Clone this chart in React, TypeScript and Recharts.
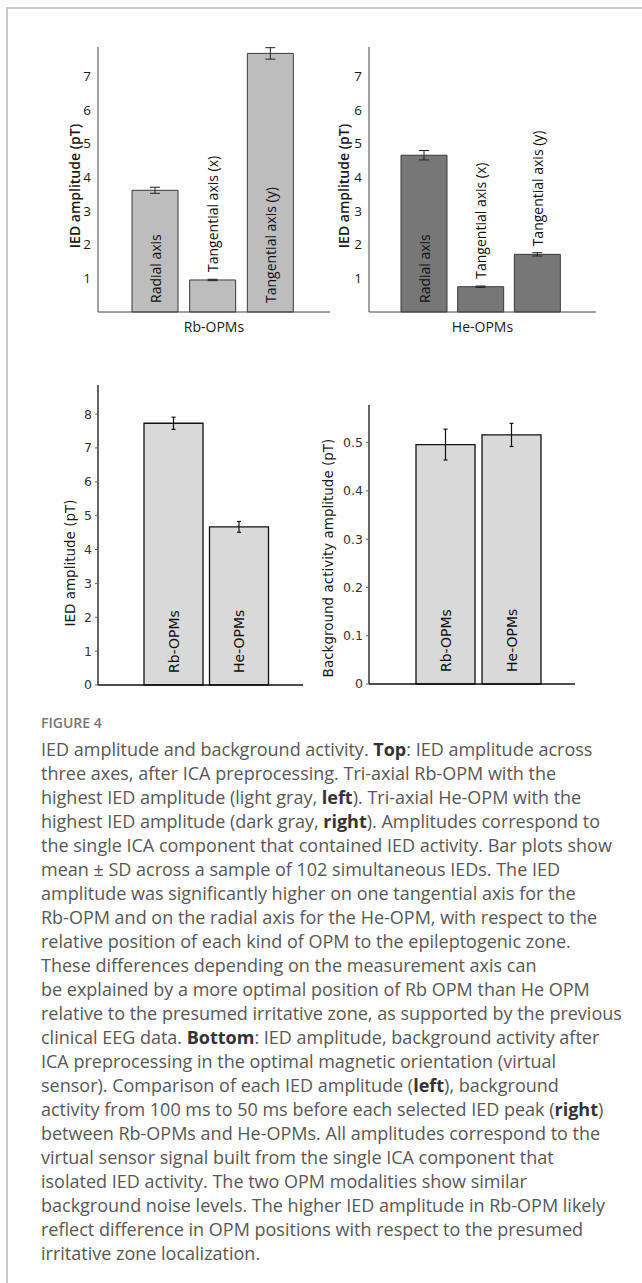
import React from "react";
import { BarChart, Bar, XAxis, YAxis, ErrorBar, LabelList } from "recharts";

// top row: three measurement axes per OPM type
const topAxes = ["Radial axis", "Tangential axis (x)", "Tangential axis (y)"];
const rbTopMean = [3.61, 0.95, 7.67];
const rbTopSd = [0.09, 0.02, 0.17];
const heTopMean = [4.65, 0.75, 1.71];
const heTopSd = [0.14, 0.02, 0.05];
const topTicks = [1, 2, 3, 4, 5, 6, 7];

// bottom row: virtual sensor comparison
const groups = ["Rb-OPMs", "He-OPMs"];
const iedMean = [7.73, 4.67];
const iedSd = [0.18, 0.16];
const iedTicks = [0, 1, 2, 3, 4, 5, 6, 7, 8];
const bgMean = [0.496, 0.516];
const bgSd = [0.032, 0.024];
const bgTicks = [0, 0.1, 0.2, 0.3, 0.4, 0.5];

const captionLines = [
  "IED amplitude and background activity. **Top**: IED amplitude across",
  "three axes, after ICA preprocessing. Tri-axial Rb-OPM with the",
  "highest IED amplitude (light gray, **left**). Tri-axial He-OPM with the",
  "highest IED amplitude (dark gray, **right**). Amplitudes correspond to",
  "the single ICA component that contained IED activity. Bar plots show",
  "mean ± SD across a sample of 102 simultaneous IEDs. The IED",
  "amplitude was significantly higher on one tangential axis for the",
  "Rb-OPM and on the radial axis for the He-OPM, with respect to the",
  "relative position of each kind of OPM to the epileptogenic zone.",
  "These differences depending on the measurement axis can",
  "be explained by a more optimal position of Rb OPM than He OPM",
  "relative to the presumed irritative zone, as supported by the previous",
  "clinical EEG data. **Bottom**: IED amplitude, background activity after",
  "ICA preprocessing in the optimal magnetic orientation (virtual",
  "sensor). Comparison of each IED amplitude (**left**), background",
  "activity from 100 ms to 50 ms before each selected IED peak (**right**)",
  "between Rb-OPMs and He-OPMs. All amplitudes correspond to the",
  "virtual sensor signal built from the single ICA component that",
  "isolated IED activity. The two OPM modalities show similar",
  "background noise levels. The higher IED amplitude in Rb-OPM likely",
  "reflect difference in OPM positions with respect to the presumed",
  "irritative zone localization.",
];

const TOP_FONT = "'Open Sans', sans-serif";
const BOTTOM_FONT = "'DejaVu Sans', sans-serif";

function AxisTitle({ px, py, text, font, size, weight }: any) {
  return (
    <text
      x={px}
      y={py}
      transform={`rotate(-90 ${px} ${py})`}
      textAnchor="middle"
      dominantBaseline="central"
      fontFamily={font}
      fontSize={size}
      fontWeight={weight}
      fill="#1a1a1a"
    >
      {text}
    </text>
  );
}

// rotated bar label: inside from the base when it fits, otherwise above the bar
const topBarLabel = (props: any) => {
  const { x, y, width, height, value } = props;
  const cx = x + width / 2;
  const fits = height > String(value).length * 6.8 + 12;
  const y0 = fits ? y + height - 9 : y - 8;
  return (
    <text
      x={cx}
      y={y0}
      transform={`rotate(-90 ${cx} ${y0})`}
      textAnchor="start"
      dominantBaseline="central"
      fontFamily={TOP_FONT}
      fontSize={14}
      fill="#111"
    >
      {value}
    </text>
  );
};

const bottomBarLabel = (props: any) => {
  const { x, y, width, height, value } = props;
  const cx = x + width / 2;
  const y0 = y + height - 12;
  return (
    <text
      x={cx}
      y={y0}
      transform={`rotate(-90 ${cx} ${y0})`}
      textAnchor="start"
      dominantBaseline="central"
      fontFamily={BOTTOM_FONT}
      fontSize={14}
      fill="#111"
    >
      {value}
    </text>
  );
};

function TopPanel({ left, yWidth, width, means, sds, fill, group, titleX, pad }: any) {
  const rows = topAxes.map((name, i) => ({ name, mean: means[i], sd: sds[i] }));
  return (
    <div style={{ position: "absolute", left, top: 0 }}>
      <BarChart
        width={width}
        height={340}
        data={rows}
        margin={{ top: 47, right: 5, bottom: 0, left: 0 }}
      >
        <XAxis
          dataKey="name"
          height={28}
          tick={false}
          tickLine={false}
          axisLine={{ stroke: "#444" }}
          padding={pad}
          label={{
            value: group,
            position: "center",
            dy: 1,
            style: { fontFamily: TOP_FONT, fontSize: 14, fill: "#1a1a1a" },
          }}
        />
        <YAxis
          width={yWidth}
          domain={[0, 7.86]}
          ticks={topTicks}
          interval={0}
          tickLine={false}
          tickSize={0}
          tickMargin={7}
          axisLine={{ stroke: "#444" }}
          tick={{ fontFamily: TOP_FONT, fontSize: 13.5, fill: "#1a1a1a" }}
          label={
            <AxisTitle
              px={titleX}
              py={186}
              text="IED amplitude  (pT)"
              font={TOP_FONT}
              size={14}
              weight={600}
            />
          }
        />
        <Bar
          dataKey="mean"
          barSize={46}
          fill={fill}
          stroke="#3a3a3a"
          strokeWidth={1}
          isAnimationActive={false}
        >
          <ErrorBar dataKey="sd" width={5} stroke="#222" strokeWidth={1} />
          <LabelList dataKey="name" content={topBarLabel} />
        </Bar>
      </BarChart>
    </div>
  );
}

function BottomPanel({ left, top, yWidth, width, height, means, sds, domain, ticks, title, titleX, titleY, tickFmt }: any) {
  const rows = groups.map((name, i) => ({ name, mean: means[i], sd: sds[i] }));
  return (
    <div style={{ position: "absolute", left, top }}>
      <BarChart
        width={width}
        height={height}
        data={rows}
        margin={{ top: 15, right: 7, bottom: 0, left: 0 }}
      >
        <XAxis
          dataKey="name"
          height={12}
          tick={false}
          tickLine={false}
          axisLine={{ stroke: "#111", strokeWidth: 1.3 }}
          padding={{ left: 43, right: 31 }}
        />
        <YAxis
          width={yWidth}
          domain={domain}
          ticks={ticks}
          interval={0}
          tickSize={3}
          tickMargin={3}
          tickFormatter={tickFmt}
          tickLine={{ stroke: "#666" }}
          axisLine={{ stroke: "#111", strokeWidth: 1.3 }}
          tick={{ fontFamily: BOTTOM_FONT, fontSize: 12.5, fill: "#333" }}
          label={
            <AxisTitle
              px={titleX}
              py={titleY}
              text={title}
              font={BOTTOM_FONT}
              size={13.5}
              weight={400}
            />
          }
        />
        <Bar
          dataKey="mean"
          barSize={59}
          fill="#d9d9d9"
          stroke="#111"
          strokeWidth={1.3}
          isAnimationActive={false}
        >
          <ErrorBar dataKey="sd" width={2} stroke="#111" strokeWidth={1.2} />
          <LabelList dataKey="name" content={bottomBarLabel} />
        </Bar>
      </BarChart>
    </div>
  );
}

function CaptionLine({ line }: { line: string }) {
  const parts = line.split("**");
  return (
    <div style={{ whiteSpace: "nowrap", height: 24 }}>
      {parts.map((p, i) =>
        i % 2 === 1 ? (
          <b key={i} style={{ color: "#333", fontWeight: 700 }}>
            {p}
          </b>
        ) : (
          <span key={i}>{p}</span>
        )
      )}
    </div>
  );
}

export default function App() {
  return (
    <div
      style={{
        position: "absolute",
        left: 0,
        top: 0,
        width: 642,
        height: 1283,
        background: "#fff",
        overflow: "hidden",
      }}
    >
      {/* frame */}
      <div style={{ position: "absolute", left: 6, top: 7, width: 636, height: 2, background: "#c9c9c9" }} />
      <div style={{ position: "absolute", left: 6, top: 7, width: 2, height: 1276, background: "#c9c9c9" }} />

      <TopPanel
        left={0}
        yWidth={98}
        width={335}
        means={rbTopMean}
        sds={rbTopSd}
        fill="#bdbdbd"
        group="Rb-OPMs"
        titleX={74}
        pad={{ left: 28, right: 31 }}
      />
      <TopPanel
        left={309}
        yWidth={60}
        width={292}
        means={heTopMean}
        sds={heTopSd}
        fill="#777777"
        group="He-OPMs"
        titleX={34}
        pad={{ left: 27, right: 30 }}
      />

      <BottomPanel
        left={0}
        top={370}
        yWidth={98}
        width={310}
        height={327}
        means={iedMean}
        sds={iedSd}
        domain={[0, 8.86]}
        ticks={iedTicks}
        title="IED amplitude (pT)"
        titleX={70}
        titleY={193}
        tickFmt={(v: number) => String(v)}
      />
      <BottomPanel
        left={310}
        top={390}
        yWidth={59}
        width={272}
        height={306}
        means={bgMean}
        sds={bgSd}
        domain={[0, 0.578]}
        ticks={bgTicks}
        title="Background activity amplitude (pT)"
        titleX={18}
        titleY={168}
        tickFmt={(v: number) => (v === 0 ? "0" : v.toFixed(1))}
      />

      <div
        style={{
          position: "absolute",
          left: 41,
          top: 714,
          fontFamily: "'Open Sans', sans-serif",
          fontSize: 14,
          fontWeight: 600,
          color: "#777",
          lineHeight: "18px",
        }}
      >
        FIGURE 4
      </div>
      <div
        style={{
          position: "absolute",
          left: 41,
          top: 737,
          fontFamily: "'Open Sans', sans-serif",
          fontSize: 18,
          color: "#585858",
          lineHeight: "24px",
        }}
      >
        {captionLines.map((l, i) => (
          <CaptionLine key={i} line={l} />
        ))}
      </div>
    </div>
  );
}
